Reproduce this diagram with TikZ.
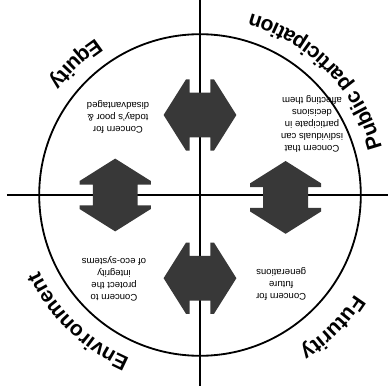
\documentclass[tikz,border=0pt]{standalone}
\usepackage{fontspec}
\setmainfont{Liberation Sans}
\usepackage{tikz}
\usetikzlibrary{decorations.text}
\newcommand\lblfont{\bfseries\fontsize{15}{18}\selectfont}
\newcommand\notefont{\fontsize{6.8}{8.5}\selectfont}

\begin{document}
\begin{tikzpicture}[x=1cm, y=1cm,
    axis/.style={black, line width=1.3pt},
    bigarrow/.style={fill=black!78},
    note/.style={rotate=180, align=center, inner sep=1pt, font=\notefont},
    curved/.style={decorate, decoration={text along path, text align=center,
                   text={#1}}}]
  \path[use as bounding box] (-5.0,-4.825) rectangle (4.7,4.875);
  % the ring and the cross through it
  \draw[axis] (0,0) circle (4.02);
  \draw[axis] (-4.825,0) -- (4.7,0);
  \draw[axis] (0,4.875) -- (0,-4.775);
  % double arrows, one on each arm of the cross
  \foreach \ax/\ay/\turn in {0/2.0/0, 0/-2.08/0, -2.12/0/90, 2.14/-0.06/90}
    \fill[bigarrow, shift={(\ax,\ay)}, rotate=\turn]
      (-0.91,0) -- (-0.35,0.89) -- (-0.26,0.89) -- (-0.26,0.56) -- (0.26,0.56)
      -- (0.26,0.89) -- (0.35,0.89) -- (0.91,0) -- (0.35,-0.89) -- (0.26,-0.89)
      -- (0.26,-0.56) -- (-0.26,-0.56) -- (-0.26,-0.89) -- (-0.35,-0.89) -- cycle;
  % the four headings round the ring (the page is printed upside down)
  \path[curved={|\lblfont|Equity}]
    (110:4.7) arc[start angle=110, end angle=157, radius=4.7];
  \path[curved={|\lblfont|Public participation}]
    (5:4.7) arc[start angle=5, end angle=84, radius=4.7];
  \path[curved={|\lblfont|Futurity}]
    (-25:4.6) arc[start angle=-25, end angle=-65, radius=4.6];
  \path[curved={|\lblfont|Environment}]
    (-100:4.45) arc[start angle=-100, end angle=-168, radius=4.45];
  % the concern in each quarter
  \node[note] (equitynote) at (-2.05,1.95) {Concern for\\today's poor \&\\disadvantaged};
  \node[note] (publicnote) at (2.8,1.78)
    {Concern that\\isdividuals can\\participate in\\decisions\\affecting them};
  \node[note] (futurenote) at (2.03,-2.23) {Concern for\\future\\generations};
  \node[note] (envnote) at (-2.15,-2.1) {Concern to\\protect the\\integrity\\of eco-systems};
\end{tikzpicture}
\end{document}
